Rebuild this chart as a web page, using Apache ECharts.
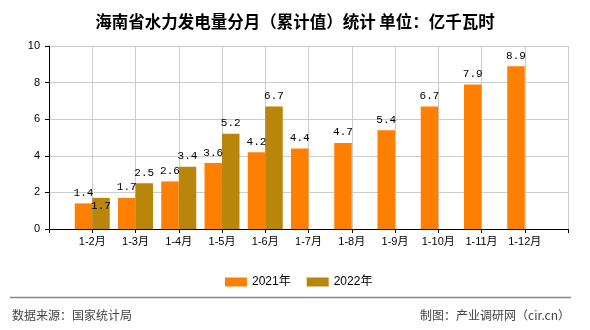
<!DOCTYPE html>
<html>
<head>
<meta charset="utf-8">
<script src="https://cdn.jsdelivr.net/npm/echarts@6/dist/echarts.min.js"></script>
<style>
  html, body { margin: 0; padding: 0; background: #fff; }
  #chart { width: 590px; height: 330px; }
</style>
</head>
<body>
<div id="chart"></div>
<script>
// Monthly cumulative hydropower output, Hainan (unit: 亿千瓦时)
const categories = ['1-2月', '1-3月', '1-4月', '1-5月', '1-6月', '1-7月', '1-8月', '1-9月', '1-10月', '1-11月', '1-12月'];
const values2021 = [1.4, 1.7, 2.6, 3.6, 4.2, 4.4, 4.7, 5.4, 6.7, 7.9, 8.9];
const values2022 = [1.7, 2.5, 3.4, 5.2, 6.7, null, null, null, null, null, null];
const yTicks = { min: 0, max: 10, interval: 2 };

// Blank slots at both ends so the month bars sit on the inner ticks
const axisData = [''].concat(categories, ['']);
const pad = arr => [null].concat(arr, [null]);

const labelFont = {
  fontFamily: 'Liberation Mono, DejaVu Sans Mono, monospace',
  fontSize: 11,
  color: '#000'
};

const chart = echarts.init(document.getElementById('chart'), null, { renderer: 'canvas' });

chart.setOption({
  animation: false,
  backgroundColor: '#fff',
  title: {
    text: '海南省水力发电量分月（累计值）统计 单位：亿千瓦时',
    left: 'center',
    top: 8,
    textStyle: {
      fontFamily: 'Noto Sans CJK SC',
      fontSize: 16.5,
      fontWeight: 'bold',
      color: '#000'
    }
  },
  legend: {
    left: 220,
    top: 271,
    itemWidth: 22,
    itemHeight: 9,
    itemGap: 16,
    icon: 'rect',
    textStyle: {
      fontFamily: 'Liberation Sans, Noto Sans CJK SC',
      fontSize: 12,
      color: '#000',
      padding: [0, 0, 0, 0]
    },
    data: ['2021年', '2022年']
  },
  grid: { left: 49, right: 22, top: 46, bottom: 101, containLabel: false },
  xAxis: {
    type: 'category',
    data: axisData,
    boundaryGap: false,
    axisLine: { lineStyle: { color: '#000', width: 1 } },
    axisTick: { show: true, length: 4, lineStyle: { color: '#000' } },
    splitLine: { show: true, lineStyle: { color: '#ccc', width: 1 } },
    axisLabel: {
      interval: 0,
      margin: 7,
      fontFamily: 'Liberation Sans, Noto Sans CJK SC',
      fontSize: 11,
      color: '#000'
    }
  },
  yAxis: {
    type: 'value',
    min: yTicks.min,
    max: yTicks.max,
    interval: yTicks.interval,
    axisLine: { show: true, lineStyle: { color: '#000', width: 1 } },
    axisTick: { show: true, length: 4, lineStyle: { color: '#000' } },
    splitLine: { show: true, lineStyle: { color: '#ccc', width: 1 } },
    axisLabel: {
      margin: 9,
      fontFamily: 'Liberation Sans, DejaVu Sans',
      fontSize: 11,
      color: '#000'
    }
  },
  series: [
    {
      name: '2021年',
      type: 'bar',
      data: pad(values2021),
      barWidth: 17.5,
      barGap: '0%',
      itemStyle: { color: '#ff8000' },
      label: Object.assign({ show: true, position: 'top', distance: 5 }, labelFont)
    },
    {
      name: '2022年',
      type: 'bar',
      data: pad(values2022).map((v, i) =>
        i === 1 ? { value: v, label: { position: 'insideTop', distance: 3 } } : v),
      barWidth: 17.5,
      itemStyle: { color: '#b8860b' },
      label: Object.assign({ show: true, position: 'top', distance: 5 }, labelFont)
    }
  ],
  graphic: [
    {
      type: 'line',
      shape: { x1: 10, y1: 297.5, x2: 571, y2: 297.5 },
      style: { stroke: '#888', lineWidth: 1.5 }
    },
    {
      type: 'text',
      left: 12,
      top: 309,
      style: {
        text: '数据来源：国家统计局',
        font: '12px "Noto Sans CJK SC"',
        fill: '#444'
      }
    },
    {
      type: 'text',
      right: 20,
      top: 309,
      style: {
        text: '制图：产业调研网（cir.cn）',
        font: '12px "Noto Sans CJK SC"',
        fill: '#444'
      }
    }
  ]
});
</script>
</body>
</html>
